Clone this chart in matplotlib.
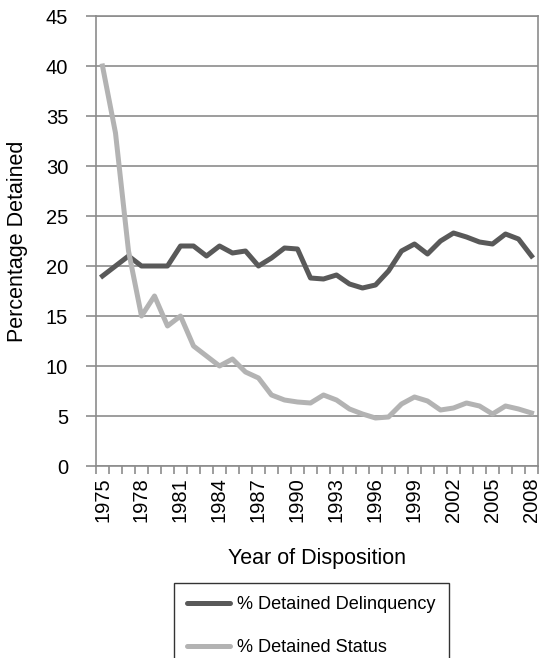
import numpy as np
import matplotlib
matplotlib.use('Agg')
import matplotlib.pyplot as plt

plt.rcParams['font.family'] = ['Liberation Sans', 'DejaVu Sans']

# Data
years = list(range(1975, 2009))
delinquency = [19.0, 20.0, 21.0, 20.0, 20.0, 20.0, 22.0, 22.0, 21.0, 22.0,
               21.3, 21.5, 20.0, 20.8, 21.8, 21.7, 18.8, 18.7, 19.1, 18.2,
               17.8, 18.1, 19.5, 21.5, 22.2, 21.2, 22.5, 23.3, 22.9, 22.4,
               22.2, 23.2, 22.7, 21.0]
status = [40.0, 33.3, 21.5, 15.0, 17.0, 14.0, 15.0, 12.0, 11.0, 10.0,
          10.7, 9.4, 8.8, 7.1, 6.6, 6.4, 6.3, 7.1, 6.6, 5.7,
          5.2, 4.8, 4.9, 6.2, 6.9, 6.5, 5.6, 5.8, 6.3, 6.0,
          5.2, 6.0, 5.7, 5.3]

dark = '#595959'
light = '#b3b3b3'
axis_grey = '#8c8c8c'

fig = plt.figure(figsize=(5.42, 6.58), dpi=100)
ax = fig.add_axes([96 / 542, 1 - 466 / 658, 442 / 542, 450 / 658])

x = np.arange(len(years))
ax.plot(x, delinquency, color=dark, lw=3.6, label='% Detained Delinquency')
ax.plot(x, status, color=light, lw=3.6, label='% Detained Status')

ax.set_xlim(-0.5, len(years) - 0.5)
ax.set_ylim(0, 45)
ax.set_yticks(range(0, 46, 5))
ax.yaxis.grid(True, color=axis_grey, lw=1.2)
ax.set_axisbelow(True)

ax.set_xticks(x[::3])
ax.set_xticklabels([str(y) for y in years[::3]], rotation=90)
ax.set_xticks(np.arange(-0.5, len(years)), minor=True)
ax.tick_params(axis='x', which='major', length=0, pad=8, labelsize=14.5)
ax.tick_params(axis='x', which='minor', length=6, color=axis_grey, width=1.2)
ax.tick_params(axis='y', length=7, color=axis_grey, width=1.2, labelsize=14.5,
               pad=13)

for s in ax.spines.values():
    s.set_color(axis_grey)
    s.set_linewidth(1.2)

ax.set_xlabel('Year of Disposition', fontsize=15.5)
ax.xaxis.set_label_coords(0.5, -0.205)
ax.xaxis.label.set_va('center')
ax.set_ylabel('Percentage Detained', fontsize=15.5)
ax.yaxis.set_label_coords(-0.177, 0.5)
ax.yaxis.label.set_va('center')

# legend box runs past the bottom edge, as in the original
leg = fig.legend(loc='upper left', bbox_to_anchor=(174 / 542, 1 - 583 / 658),
                 borderaxespad=0, frameon=True, fancybox=False,
                 edgecolor='black', fontsize=13.1, handlelength=2.35,
                 labelspacing=1.42, borderpad=0.72, handletextpad=0.4)
leg.get_frame().set_linewidth(1.0)
for h in leg.get_lines():
    h.set_solid_capstyle('round')

fig.savefig('out.png', dpi=100)
